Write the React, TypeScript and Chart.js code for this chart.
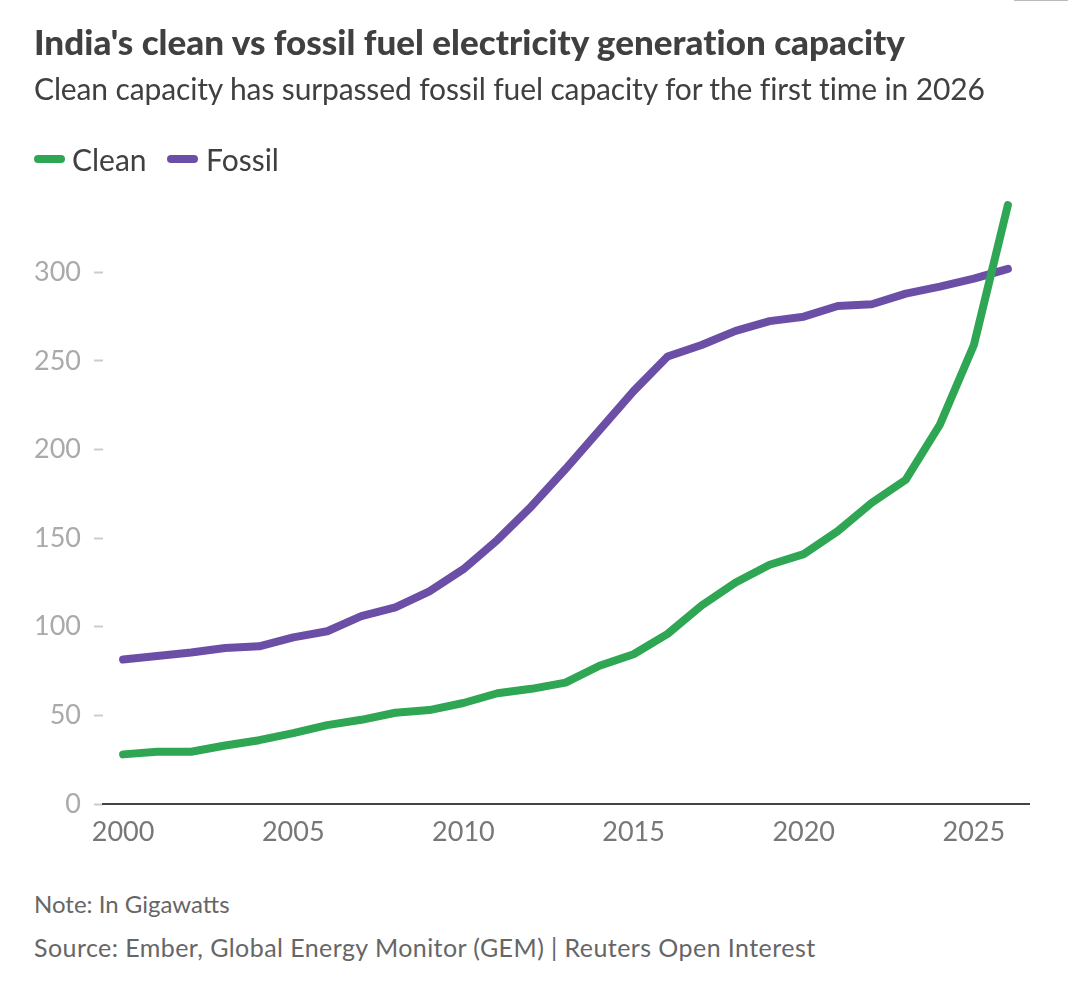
import { useEffect, useRef } from 'react'
import { Chart, registerables } from 'chart.js'

Chart.register(...registerables)

const years = [2000, 2001, 2002, 2003, 2004, 2005, 2006, 2007, 2008, 2009, 2010, 2011, 2012, 2013, 2014, 2015, 2016, 2017, 2018, 2019, 2020, 2021, 2022, 2023, 2024, 2025, 2026]
const clean = [28, 29.5, 29.5, 33, 36, 40, 44.5, 47.5, 51.5, 53, 57, 62.5, 65, 68.5, 78, 84.5, 96, 112, 125, 135, 141, 154, 170, 183, 214, 259, 338]
const fossil = [81.5, 83.5, 85.5, 88, 89, 94, 97.5, 106, 111, 120, 132.5, 149, 168, 189, 211, 233, 252.5, 259, 267, 272.5, 275, 281, 282, 288, 292, 296.5, 302]
const xTicks = [2000, 2005, 2010, 2015, 2020, 2025]
const yTicks = [0, 50, 100, 150, 200, 250, 300]

const FONT = 'Lato, sans-serif'
const GREEN = '#2fa654'
const PURPLE = '#6b4fa6'

// white edge under the fossil line where it crosses the clean one
const haloPlugin = {
  id: 'halo',
  beforeDatasetDraw(chart: Chart, args: { index: number }) {
    if (args.index !== 1) return
    const pts = chart.getDatasetMeta(1).data
    const ctx = chart.ctx
    ctx.save()
    ctx.beginPath()
    pts.forEach((p, i) => (i ? ctx.lineTo(p.x, p.y) : ctx.moveTo(p.x, p.y)))
    ctx.strokeStyle = '#fff'
    ctx.lineWidth = 12
    ctx.lineCap = 'round'
    ctx.lineJoin = 'round'
    ctx.stroke()
    ctx.restore()
  },
}

const textStyle = (left: number, top: number, size: number, color: string, weight = 400, spacing = 0) => ({
  position: 'absolute' as const,
  left,
  top,
  margin: 0,
  fontFamily: FONT,
  fontSize: size,
  fontWeight: weight,
  letterSpacing: spacing,
  color,
  lineHeight: 1,
  whiteSpace: 'nowrap' as const,
})

const swatchStyle = (left: number, color: string) => ({
  position: 'absolute' as const,
  left,
  top: 155,
  width: 31,
  height: 8,
  borderRadius: 4,
  background: color,
})

export default function App() {
  const chartRef = useRef<HTMLCanvasElement>(null)

  useEffect(() => {
    document.body.style.margin = '0'
    if (!chartRef.current) return
    const chart = new Chart(chartRef.current, {
      type: 'line',
      plugins: [haloPlugin],
      data: {
        labels: years,
        datasets: [
          { label: 'Clean', data: years.map((y, i) => ({ x: y, y: clean[i] })), borderColor: GREEN, backgroundColor: GREEN },
          { label: 'Fossil', data: years.map((y, i) => ({ x: y, y: fossil[i] })), borderColor: PURPLE, backgroundColor: PURPLE },
        ],
      },
      options: {
        animation: false,
        responsive: false,
        layout: { padding: { left: 16, right: 39, top: 185, bottom: 0 } },
        elements: {
          point: { radius: 0 },
          line: { borderWidth: 8, borderCapStyle: 'round', borderJoinStyle: 'round', tension: 0 },
        },
        clip: false,
        plugins: {
          tooltip: { enabled: false },
          legend: { display: false },
        },
        scales: {
          x: {
            type: 'linear',
            min: 1999.41,
            max: 2026.62,
            grid: { display: true, drawOnChartArea: false, drawTicks: false },
            border: { display: true, color: '#444', width: 2 },
            afterBuildTicks: (s) => { s.ticks = xTicks.map((value) => ({ value })) },
            ticks: {
              padding: 12,
              maxRotation: 0,
              autoSkip: false,
              color: '#777',
              font: { family: FONT, size: 27 },
              callback: (v) => String(v),
            },
            afterFit: (s) => { s.height = 56 },
          },
          y: {
            min: 0,
            max: 349.3,
            grid: { drawOnChartArea: false, color: '#ccc', tickLength: 9, tickWidth: 2 },
            border: { display: false },
            afterBuildTicks: (s) => { s.ticks = yTicks.map((value) => ({ value })) },
            ticks: {
              padding: 13,
              autoSkip: false,
              color: '#aaa',
              font: { family: FONT, size: 27 },
              callback: (v) => String(v),
            },
            afterFit: (s) => { s.width = 87 },
          },
        },
      },
    })
    return () => chart.destroy()
  }, [])

  return (
    <div style={{ position: 'relative', width: 1068, height: 990, background: '#fff', overflow: 'hidden' }}>
      <span style={{ position: 'absolute', left: 1014, top: 0, width: 54, height: 1, background: '#bbb' }} />
      <canvas ref={chartRef} width={1068} height={860} style={{ position: 'absolute', left: 0, top: 0 }} />
      <h1 style={textStyle(34, 24, 35, '#404040', 900, 0.03)}>India's clean vs fossil fuel electricity generation capacity</h1>
      <p style={textStyle(34, 73, 30, '#404040', 400, -0.13)}>Clean capacity has surpassed fossil fuel capacity for the first time in 2026</p>
      <span style={swatchStyle(34, GREEN)} />
      <span style={textStyle(72, 144, 30, '#404040')}>Clean</span>
      <span style={swatchStyle(167, PURPLE)} />
      <span style={textStyle(206, 144, 30, '#404040')}>Fossil</span>
      <p style={textStyle(34, 892, 24, '#666')}>Note: In Gigawatts</p>
      <p style={textStyle(34, 935, 25, '#666', 400, 0.43)}>Source: Ember, Global Energy Monitor (GEM) | Reuters Open Interest</p>
    </div>
  )
}
